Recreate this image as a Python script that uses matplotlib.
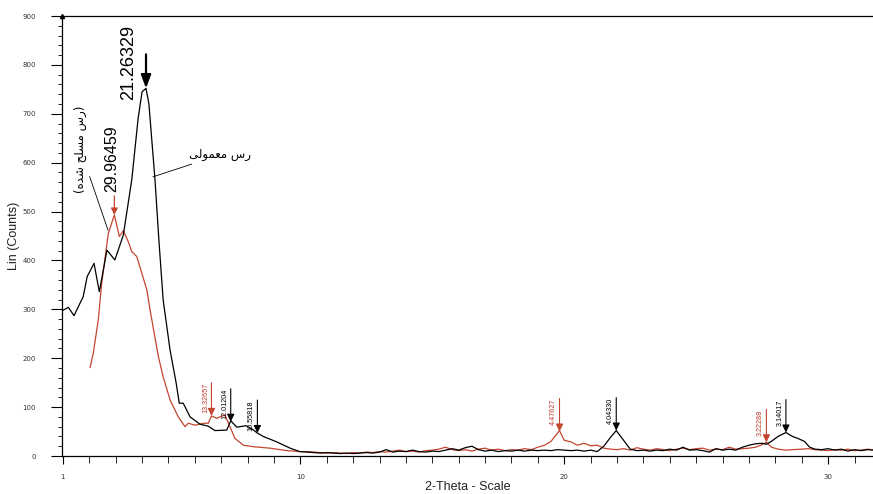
import matplotlib
matplotlib.use("Agg")
import matplotlib.pyplot as plt
from matplotlib.ticker import MultipleLocator, FixedLocator

# ---------------- data ----------------
black_2theta = [1.0, 1.21, 1.42, 1.77, 1.92, 2.18, 2.38, 2.67, 2.97, 3.29, 3.61, 3.85, 4.0, 4.15,
                4.26, 4.49, 4.64, 4.80, 5.06, 5.29, 5.41, 5.56, 5.82, 6.20, 6.51, 6.76, 7.21,
                7.36, 7.59, 7.94, 8.17, 8.37, 8.59, 9.10, 9.61, 9.98,
                10.25, 10.5, 10.75, 11.0, 11.25, 11.5, 11.75, 12.0, 12.25, 12.5, 12.75, 13.0,
                13.25, 13.5, 13.75, 14.0, 14.25, 14.5, 14.75, 15.0, 15.25, 15.5, 15.75, 16.0,
                16.25, 16.5, 16.75, 17.0, 17.25, 17.5, 17.75, 18.0, 18.25, 18.5, 18.75, 19.0,
                19.25, 19.5, 19.75, 20.0, 20.25, 20.5, 20.75, 21.0, 21.25, 21.5, 21.75, 21.97,
                22.25, 22.5, 22.75, 23.0, 23.25, 23.5, 23.75, 24.0, 24.25, 24.5, 24.75, 25.0,
                25.25, 25.5, 25.75, 26.0, 26.25, 26.5, 26.75, 27.0, 27.25, 27.5, 27.66, 27.85,
                28.1, 28.4, 28.65, 28.85, 29.1, 29.3, 29.5, 29.75, 30.0, 30.25, 30.5, 30.75,
                31.0, 31.25, 31.5, 31.75]
black_counts = [298, 304, 287, 326, 367, 394, 336, 421, 401, 452, 565, 690, 745, 752,
                720, 565, 440, 319, 217, 150, 108, 108, 80, 65, 61, 52, 53,
                72, 59, 62, 55, 47, 40, 29, 16, 9,
                8, 7, 6, 7, 6, 5, 6, 5, 6, 7, 6, 8,
                13, 8, 10, 9, 12, 9, 8, 10, 9, 12, 15, 12,
                17, 20, 13, 10, 12, 9, 11, 10, 12, 10, 12, 11,
                12, 11, 13, 12, 11, 12, 10, 12, 9, 20, 38, 52,
                32, 14, 11, 12, 10, 12, 11, 14, 12, 18, 12, 13,
                11, 8, 15, 12, 14, 12, 18, 22, 25, 26, 24, 30,
                40, 48, 40, 36, 30, 18, 14, 13, 15, 12, 14, 10,
                13, 11, 13, 12]

red_2theta = [2.03, 2.15, 2.34, 2.47, 2.72, 2.95, 3.14, 3.29, 3.48, 3.61, 3.80, 3.99, 4.18,
              4.30, 4.43, 4.62, 4.80, 5.06, 5.37, 5.63, 5.75, 6.01, 6.32, 6.51, 6.63, 6.83,
              6.95, 7.14, 7.33, 7.52, 7.84, 8.22, 8.85, 9.48, 9.98,
              10.25, 10.5, 10.75, 11.0, 11.25, 11.5, 11.75, 12.0, 12.25, 12.5, 12.75, 13.0,
              13.25, 13.5, 13.75, 14.0, 14.25, 14.5, 14.75, 15.0, 15.25, 15.5, 15.75, 16.0,
              16.25, 16.5, 16.75, 17.0, 17.25, 17.5, 17.75, 18.0, 18.25, 18.5, 18.75, 19.0,
              19.25, 19.5, 19.82, 20.0, 20.25, 20.5, 20.75, 21.0, 21.25, 21.5, 21.75, 22.0,
              22.25, 22.5, 22.75, 23.0, 23.25, 23.5, 23.75, 24.0, 24.25, 24.5, 24.75, 25.0,
              25.25, 25.5, 25.75, 26.0, 26.25, 26.5, 26.75, 27.0, 27.25, 27.45, 27.66, 27.85,
              28.1, 28.4, 28.65, 29.0, 29.25, 29.5, 29.75, 30.0, 30.25, 30.5, 30.75, 31.0,
              31.25, 31.5, 31.75]
red_counts = [181, 210, 278, 353, 455, 493, 449, 461, 438, 418, 408, 374, 340,
              300, 260, 203, 162, 115, 80, 60, 67, 63, 67, 67, 82, 77,
              80, 84, 60, 36, 22, 19, 16, 11, 9,
              9, 8, 7, 6, 7, 6, 5, 7, 6, 8, 7, 9,
              8, 10, 12, 9, 10, 8, 11, 12, 14, 18, 13, 11,
              13, 10, 14, 16, 12, 14, 11, 13, 12, 15, 13, 18,
              22, 30, 52, 32, 29, 22, 26, 21, 22, 16, 14, 13,
              15, 12, 17, 14, 12, 15, 13, 11, 14, 16, 13, 15,
              16, 12, 14, 13, 18, 14, 15, 16, 18, 22, 28, 18,
              14, 12, 13, 14, 15, 13, 12, 11, 13, 12, 14, 11,
              12, 14, 12]

# peak annotations (d-spacing labels)
small_peak_2theta = [6.63, 7.36, 8.37, 19.82, 21.97, 27.66, 28.40]
small_peak_counts = [82, 70, 47, 50, 52, 28, 48]
small_peak_labels = ["13.32657", "12.01204", "10.55818", "4.47627", "4.04330", "3.22288", "3.14017"]
small_peak_series = ["red", "black", "black", "red", "black", "red", "black"]

main_black_peak = (4.15, 752, "21.26329")
main_red_peak = (2.95, 493, "29.96459")

label_black = "\uFEF0\uFEDF\uFEEE\uFEE4\uFECC\uFEE3 \uFEB1\uFEAD"          # رس معمولی
label_red = "(\uFEE9\uFEAA\uFEB7 \uFEA2\uFEE0\uFEB4\uFEE3 \uFEB1\uFEAD)"  # (رس مسلح شده)

x_major_ticks = [1, 10, 20, 30]
y_major_ticks = [0, 100, 200, 300, 400, 500, 600, 700, 800, 900]

# ---------------- style ----------------
RED = "#c4452f"
RED_TXT = "#c0392b"
sans = ["Liberation Sans", "DejaVu Sans"]
arab = ["DejaVu Sans", "Noto Sans"]

fig = plt.figure(figsize=(8.73, 4.94), dpi=100)
ax = fig.add_axes([62/873, 38/494, 811/873, 440/494])

ax.plot(black_2theta, black_counts, color="black", lw=0.9, zorder=3)
ax.plot(red_2theta, red_counts, color=RED, lw=0.9, zorder=2)

ax.set_xlim(0.966, 31.70)
ax.set_ylim(0, 900)

ax.spines["right"].set_visible(False)
for s in ["left", "bottom", "top"]:
    ax.spines[s].set_linewidth(0.9)
    ax.spines[s].set_color("black")

ax.xaxis.set_major_locator(FixedLocator(x_major_ticks))
ax.xaxis.set_minor_locator(MultipleLocator(1))
ax.yaxis.set_major_locator(FixedLocator(y_major_ticks))
ax.yaxis.set_minor_locator(MultipleLocator(20))
ax.tick_params(axis="y", which="major", length=8, width=0.8, pad=11, labelsize=5, labelcolor="#333333")
ax.tick_params(axis="y", which="minor", length=3, width=0.6)
ax.tick_params(axis="x", which="major", length=6, width=0.8, pad=7, labelsize=5, labelcolor="#333333")
ax.tick_params(axis="x", which="minor", length=5, width=0.6)

ax.set_ylabel("Lin (Counts)", fontsize=9, family=sans, color="#222222")
ax.yaxis.set_label_coords(-0.052, 0.5)
ax.set_xlabel("2-Theta - Scale", fontsize=9, family=sans, color="#222222")
ax.xaxis.set_label_coords(0.5, -0.056)

# small arrowhead at top of y axis
ax.plot([0.966], [900], marker="^", ms=3, color="black", clip_on=False, zorder=5)

# small peak arrows
for x, y, lab, ser in zip(small_peak_2theta, small_peak_counts, small_peak_labels, small_peak_series):
    c = RED if ser == "red" else "black"
    tc = RED_TXT if ser == "red" else "black"
    ax.annotate("", xy=(x, y), xycoords="data", xytext=(0, 33), textcoords="offset pixels",
                arrowprops=dict(arrowstyle="-|>,head_length=0.45,head_width=0.22", color=c, lw=0.8,
                                shrinkA=0, shrinkB=0))
    ax.annotate(lab, xy=(x, y), xycoords="data", xytext=(-2.5, 33), textcoords="offset pixels",
                rotation=90, ha="right", va="top", fontsize=5.2, color=tc, family=sans)

# main black peak
bx, by, blab = main_black_peak
ax.annotate("", xy=(bx, by), xycoords="data", xytext=(0, 34), textcoords="offset pixels",
            arrowprops=dict(arrowstyle="-|>,head_length=0.8,head_width=0.3", color="black", lw=1.6,
                            shrinkA=0, shrinkB=0))
ax.annotate(blab, xy=(bx, by), xycoords="data", xytext=(-9, 63), textcoords="offset pixels",
            rotation=90, ha="right", va="top", fontsize=13, color="black", family=sans)

# main red peak
rx, ry, rlab = main_red_peak
ax.annotate("", xy=(rx, ry), xycoords="data", xytext=(0, 19), textcoords="offset pixels",
            arrowprops=dict(arrowstyle="-|>,head_length=0.4,head_width=0.2", color=RED, lw=0.9,
                            shrinkA=0, shrinkB=0))
ax.annotate(rlab, xy=(rx, ry), xycoords="data", xytext=(-3, 23), textcoords="offset pixels",
            rotation=90, ha="center", va="bottom", fontsize=11.5, color="black", family=sans)

# series labels with leader lines
ax.annotate(label_black, xy=(4.41, 571), xycoords="data", xytext=(5.78, 616), textcoords="data",
            ha="left", va="center", fontsize=8.5, family=arab, color="black",
            arrowprops=dict(arrowstyle="-", color="black", lw=0.6, shrinkA=0, shrinkB=0))
ax.annotate(label_red, xy=(2.71, 462), xycoords="data", xytext=(1.66, 538), textcoords="data",
            ha="center", va="bottom", rotation=90, fontsize=8.5, family=arab, color="black",
            arrowprops=dict(arrowstyle="-", color="black", lw=0.6, shrinkA=0, shrinkB=0))

fig.savefig("out.png", dpi=100)
